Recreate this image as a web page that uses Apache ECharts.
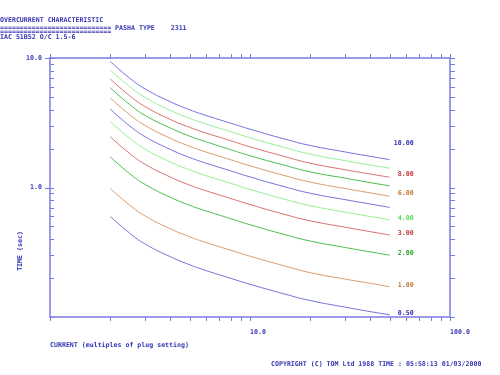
<!DOCTYPE html>
<html><head><meta charset="utf-8">
<script src="https://cdn.jsdelivr.net/npm/echarts@6/dist/echarts.min.js"></script>
<style>html,body{margin:0;padding:0;background:#fff}#c{width:500px;height:375px}</style>
</head><body><div id="c"></div>
<script>
// ---- data ----
const currents = [2, 2.5, 3, 4, 5, 6, 8, 10, 15, 20, 30, 40, 50];
const td10 = [9.42, 7.00, 5.75, 4.59, 3.98, 3.61, 3.14, 2.82, 2.36, 2.11, 1.88, 1.74, 1.64];
const td9  = [8.09, 6.01, 4.94, 3.94, 3.42, 3.10, 2.70, 2.42, 2.03, 1.81, 1.61, 1.49, 1.41];
const td8  = [6.89, 5.12, 4.20, 3.35, 2.91, 2.64, 2.30, 2.06, 1.73, 1.54, 1.37, 1.27, 1.20];
const td7  = [5.89, 4.38, 3.59, 2.88, 2.49, 2.26, 1.96, 1.76, 1.48, 1.32, 1.18, 1.09, 1.03];
const td6  = [4.917, 3.654, 3.002, 2.397, 2.078, 1.884, 1.639, 1.472, 1.232, 1.101, 0.981, 0.908, 0.856];
const td5  = [4.032, 2.996, 2.461, 1.966, 1.703, 1.545, 1.344, 1.207, 1.010, 0.903, 0.805, 0.745, 0.702];
const td4  = [3.231, 2.401, 1.972, 1.575, 1.365, 1.238, 1.077, 0.967, 0.809, 0.724, 0.645, 0.597, 0.563];
const td3  = [2.468, 1.834, 1.507, 1.203, 1.043, 0.946, 0.823, 0.739, 0.618, 0.553, 0.493, 0.456, 0.430];
const td2  = [1.724, 1.281, 1.052, 0.840, 0.728, 0.661, 0.575, 0.516, 0.432, 0.386, 0.344, 0.318, 0.300];
const td1  = [0.984, 0.732, 0.601, 0.480, 0.416, 0.377, 0.328, 0.295, 0.247, 0.220, 0.196, 0.182, 0.171];
const td05 = [0.598, 0.445, 0.365, 0.292, 0.253, 0.229, 0.199, 0.179, 0.150, 0.134, 0.119, 0.110, 0.104];
const curveLabels = ['10.00', '', ' 8.00', '', ' 6.00', '', ' 4.00', ' 3.00', ' 2.00', ' 1.00', ' 0.50'];
const xTickVals = [1,2,3,4,5,6,7,8,9,10,20,30,40,50,60,70,80,90,100];
const yTickVals = [0.1,0.2,0.3,0.4,0.5,0.6,0.7,0.8,0.9,1,2,3,4,5,6,7,8,9,10];
const xLabelText = {10: '10.0', 100: '100.0'};
const yLabelText = {1: '1.0', 10: '10.0'};

// ---- styles ----
const curves = [td10, td9, td8, td7, td6, td5, td4, td3, td2, td1, td05];
const lineColors = ['#7272dc', '#96f096', '#dc6e6e', '#4cbc4c', '#dc9c6c'];
const labelColors = ['#2c2cb0', '#50dc50', '#c03434', '#20a820', '#c0782c'];
const labelOffsetY = [-16, 0, -3, 0, -3, 0, -2, -2, -2, -2, -2];
const axisColor = '#7b7be0';
const textColor = '#3434b4';
const FONT = '"DejaVu Sans Mono", "Liberation Mono", monospace';
const FS = 6.6;
const xMin = 1, xMax = 100, yMin = 0.1, yMax = 10;

const chart = echarts.init(document.getElementById('c'), null, {renderer: 'canvas'});

const lineSeries = curves.map((vals, i) => ({
  type: 'line',
  data: currents.map((c, j) => [c, vals[j]]),
  showSymbol: false,
  smooth: true,
  silent: true,
  animation: false,
  lineStyle: {color: lineColors[i % 5], width: 1},
  endLabel: {
    show: curveLabels[i] !== '',
    formatter: () => curveLabels[i],
    color: labelColors[i % 5],
    fontFamily: FONT, fontWeight: 'bold', fontSize: FS,
    distance: 4,
    offset: [0, labelOffsetY[i]]
  }
}));

const tickStyle = {stroke: axisColor, lineWidth: 1};
const xTickSeries = {
  type: 'custom', coordinateSystem: 'cartesian2d', silent: true, clip: false, animation: false,
  data: xTickVals.map(v => [v, yMax]),
  renderItem: (p, api) => {
    const v = api.value(0);
    const t = api.coord([v, yMax]);
    const b = api.coord([v, yMin]);
    const x = Math.round(t[0]) + 0.5;
    return {type: 'group', children: [
      {type: 'line', shape: {x1: x, y1: t[1], x2: x, y2: t[1] - 4}, style: tickStyle},
      {type: 'line', shape: {x1: x, y1: b[1], x2: x, y2: b[1] + 4}, style: tickStyle}
    ]};
  }
};
const yTickSeries = {
  type: 'custom', coordinateSystem: 'cartesian2d', silent: true, clip: false, animation: false,
  data: yTickVals.map(v => [xMin, v]),
  renderItem: (p, api) => {
    const v = api.value(1);
    const l = api.coord([xMin, v]);
    const r = api.coord([xMax, v]);
    const y = Math.round(l[1]) + 0.5;
    const major = Math.abs(Math.log10(v) - Math.round(Math.log10(v))) < 1e-6 && v > 0.5;
    return {type: 'group', children: [
      {type: 'line', shape: {x1: l[0] - (major ? 5 : 0), y1: y, x2: l[0] + 4, y2: y}, style: tickStyle},
      {type: 'line', shape: {x1: r[0], y1: y, x2: r[0] + 5, y2: y}, style: tickStyle}
    ]};
  }
};

const txt = (text, x, y, extra) => ({
  type: 'text', left: x, top: y, silent: true,
  style: Object.assign({text, fill: textColor, font: `bold ${FS}px ${FONT}`}, extra || {})
});

chart.setOption({
  backgroundColor: '#fff',
  animation: false,
  grid: {left: 50, right: 50, top: 58, bottom: 58, show: true, borderColor: axisColor, borderWidth: 1.5, backgroundColor: 'transparent'},
  xAxis: {
    type: 'log', logBase: 10, min: xMin, max: xMax,
    axisLine: {show: false}, axisTick: {show: false}, splitLine: {show: false},
    axisLabel: {
      formatter: v => xLabelText[Math.round(v)] || '',
      align: 'left', margin: 12, color: textColor,
      fontFamily: FONT, fontWeight: 'bold', fontSize: FS
    }
  },
  yAxis: {
    type: 'log', logBase: 10, min: yMin, max: yMax,
    axisLine: {show: false}, axisTick: {show: false}, splitLine: {show: false},
    axisLabel: {
      formatter: v => yLabelText[Math.round(v * 10) / 10] || '',
      margin: 8, padding: [6, 0, 0, 0], color: textColor,
      fontFamily: FONT, fontWeight: 'bold', fontSize: FS
    }
  },
  graphic: [
    txt('OVERCURRENT CHARACTERISTIC', 0, 17),
    txt('============================ PASHA TYPE    2311', 0, 25),
    txt('============================', 0, 29),
    txt('IAC 51B52 O/C 1.5-6', 0, 34),
    txt('CURRENT (multiples of plug setting)', 50, 342),
    txt('COPYRIGHT (C) TOM Ltd 1988 TIME : 05:58:13 01/03/2000', 271, 361),
    {type: 'text', x: 20, y: 251, rotation: Math.PI / 2, silent: true,
     style: {text: 'TIME (sec)', fill: textColor, font: `bold ${FS}px ${FONT}`, align: 'center', verticalAlign: 'middle'}}
  ],
  series: [...lineSeries, xTickSeries, yTickSeries]
});
</script>
</body></html>
